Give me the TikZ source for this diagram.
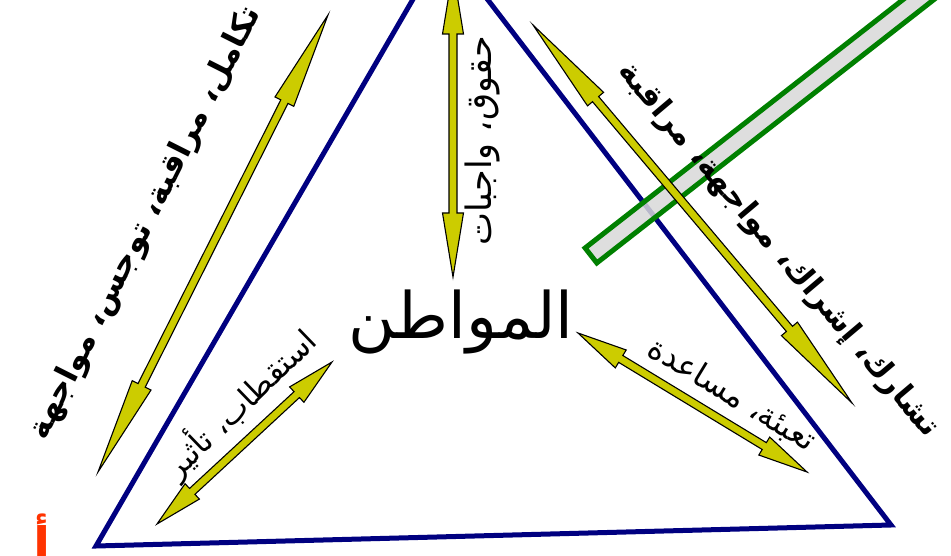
\documentclass[tikz,border=0pt]{standalone}
\usepackage{fontspec}
\newfontfamily\ar[Script=Arabic]{DejaVu Sans}
\TeXXeTstate=1
\usetikzlibrary{calc}
\definecolor{navyb}{RGB}{0,0,128}
\definecolor{arrowy}{RGB}{204,204,0}
\definecolor{barg}{RGB}{0,128,0}
\definecolor{barfill}{RGB}{217,217,217}
\definecolor{redt}{RGB}{255,51,0}
\tikzset{
  tri/.style={draw=navyb, line width=5pt, line join=miter},
  blockarr/.style={draw=black, fill=arrowy, line width=1.1pt, line join=miter},
  barbox/.style={draw=barg, fill=barfill, line width=5pt, minimum height=19pt, inner sep=0pt},
  lbl/.style={inner sep=0pt, text=black},
}
\newcommand\mydblarrow[3]{%
  \path ($(#1)!#3!(#2)$) coordinate (ha) ($(#2)!#3!(#1)$) coordinate (hb);
  \draw[blockarr] (#1) -- ($(ha)!10.5pt!90:(#2)$) -- ($(ha)!4pt!90:(#2)$)
    -- ($(hb)!4pt!-90:(#1)$) -- ($(hb)!10.5pt!-90:(#1)$) -- (#2)
    -- ($(hb)!10.5pt!90:(#1)$) -- ($(hb)!4pt!90:(#1)$)
    -- ($(ha)!4pt!-90:(#2)$) -- ($(ha)!10.5pt!-90:(#2)$) -- cycle;
}
\begin{document}
\begin{tikzpicture}[x=1pt,y=-1pt]
\useasboundingbox (0,0) rectangle (951,556);
\clip (0,0) rectangle (951,556);
\fill[white] (0,0) rectangle (951,556);
% triangle
\coordinate (A) at (445,-56);
\coordinate (B) at (96,546);
\coordinate (C) at (891,525);
\draw[tri] (A) -- (B) -- (C) -- cycle;
% bar
\node[barbox, fill opacity=0.85, rotate=38, anchor=west, minimum width=520pt] (bar) at (589,257) {};
% arrows
\coordinate (a1s) at (98,472);  \coordinate (a1e) at (328,15);
\coordinate (a2s) at (453,-30); \coordinate (a2e) at (453,277);
\coordinate (a3s) at (533,25);  \coordinate (a3e) at (852,403);
\coordinate (a4s) at (157,524); \coordinate (a4e) at (332,362);
\coordinate (a5s) at (578,333); \coordinate (a5e) at (807,472);
\mydblarrow{a1s}{a1e}{97pt}
\mydblarrow{a2s}{a2e}{64pt}
\mydblarrow{a3s}{a3e}{97pt}
\mydblarrow{a4s}{a4e}{48pt}
\mydblarrow{a5s}{a5e}{50pt}
% texts
\node[lbl] (citizen) at (461,322) {\fontsize{64}{70}\selectfont\ar\beginR المواطن\endR};
\node[lbl, rotate=63.3] (t1) at (146,223) {\fontsize{32}{37}\selectfont\ar\bfseries\beginR تكامل، مراقبة، توجس، مواجهة\endR};
\node[lbl, rotate=90] (t2) at (482,141) {\fontsize{35}{40}\selectfont\ar\beginR حقوق، واجبات\endR};
\node[lbl, rotate=-49.8] (t3) at (778,250) {\fontsize{31}{36}\selectfont\ar\bfseries\beginR تشارك، إشراك، مواجهة، مراقبة\endR};
\node[lbl, rotate=44] (t4) at (240,403) {\fontsize{31}{35}\selectfont\ar\beginR استقطاب، تأثير\endR};
\node[lbl, rotate=-31.3] (t5) at (732,395) {\fontsize{32}{36}\selectfont\ar\beginR تعبئة، مساعدة\endR};
\node[lbl, text=redt, anchor=north] (r1) at (42,514) {\fontsize{50}{54}\selectfont\ar\bfseries أ};
\end{tikzpicture}
\end{document}
